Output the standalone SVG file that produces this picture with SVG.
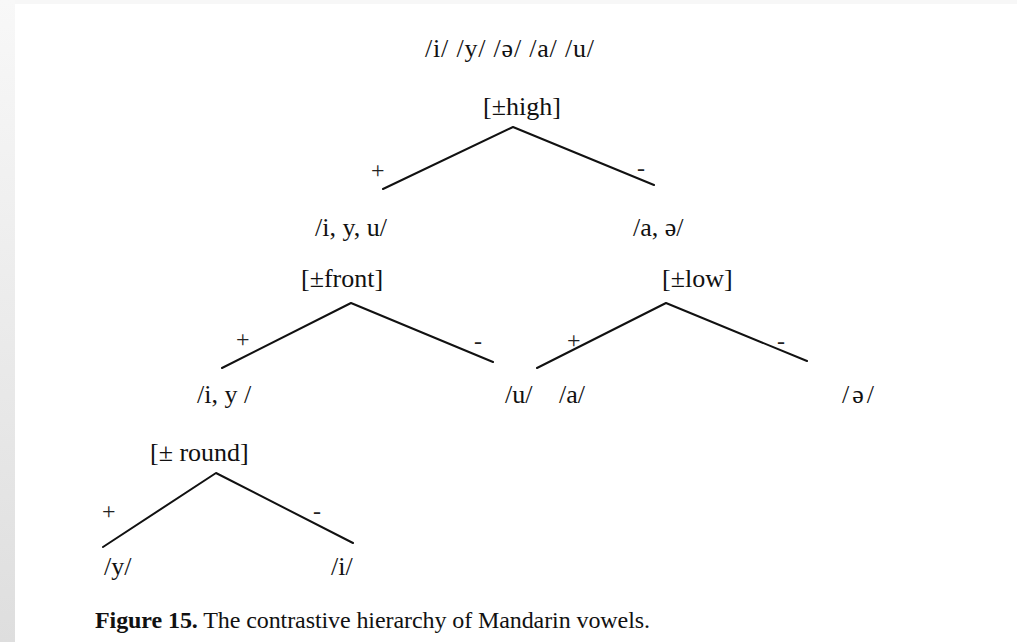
<svg xmlns="http://www.w3.org/2000/svg" width="1017" height="642" viewBox="0 0 1017 642">
<defs>
<linearGradient id="strip" x1="0" y1="0" x2="0" y2="1">
<stop offset="0" stop-color="#f8f8f8"/>
<stop offset="1" stop-color="#dedede"/>
</linearGradient>
<style>
.t{font-family:"Liberation Serif","Times New Roman",serif;font-size:26px;fill:#111}
.s{font-family:"Liberation Serif","Times New Roman",serif;font-size:24px;fill:#222}
.cap{font-family:"Liberation Serif","Times New Roman",serif;font-size:24px;fill:#111}
.e{stroke:#111;stroke-width:2;fill:none;stroke-linecap:round;stroke-linejoin:round}
</style>
</defs>
<rect width="1017" height="642" fill="#ffffff"/>
<rect x="0" y="0" width="1017" height="4" fill="#f7f7f7"/>
<rect x="0" y="0" width="15" height="642" fill="url(#strip)"/>
<g id="connectors">
<polyline class="e" points="383,189 513,127 654,185"/>
<polyline class="e" points="222,368 351,303 493,362"/>
<polyline class="e" points="537,368 666,303 807,361"/>
<polyline class="e" points="103,547 216,473 353,543"/>
</g>
<g id="root"><text class="t" x="425" y="57" textLength="169" lengthAdjust="spacing">/i/ /y/ /ə/ /a/ /u/</text></g>
<g id="high"><text class="t" x="483" y="115">[±high]</text><text class="s" x="371" y="178">+</text><text class="s" x="637" y="176">-</text></g>
<g id="iyu"><text class="t" x="315" y="236">/i, y, u/</text></g>
<g id="aschwa"><text class="t" x="633" y="236">/a, ə/</text></g>
<g id="front"><text class="t" x="301" y="287">[±front]</text><text class="s" x="236" y="347">+</text><text class="s" x="474" y="349">-</text></g>
<g id="low"><text class="t" x="662" y="287">[±low]</text><text class="s" x="567" y="348">+</text><text class="s" x="777" y="349">-</text></g>
<g id="iy"><text class="t" x="197" y="403">/i, y /</text></g>
<g id="u"><text class="t" x="505" y="403">/u/</text></g>
<g id="a"><text class="t" x="559" y="403">/a/</text></g>
<g id="schwa"><text class="t" x="842" y="403" textLength="32" lengthAdjust="spacing">/ ə /</text></g>
<g id="round"><text class="t" x="150" y="461">[± round]</text><text class="s" x="102" y="519">+</text><text class="s" x="313" y="519">-</text></g>
<g id="y"><text class="t" x="104" y="575">/y/</text></g>
<g id="i"><text class="t" x="331" y="575">/i/</text></g>
<g id="caption"><text class="cap" x="95" y="628" textLength="555" lengthAdjust="spacing"><tspan font-weight="bold">Figure 15.</tspan> The contrastive hierarchy of Mandarin vowels.</text></g>
</svg>
